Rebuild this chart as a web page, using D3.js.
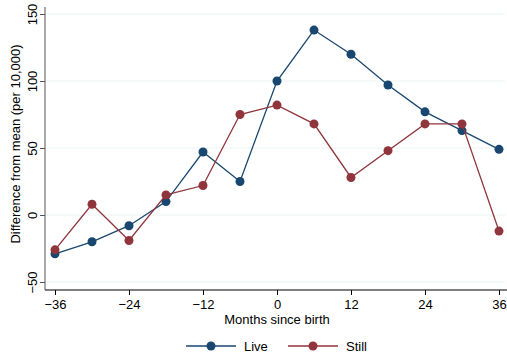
<!DOCTYPE html>
<html>
<head>
<meta charset="utf-8">
<script src="https://cdn.jsdelivr.net/npm/d3@7"></script>
<style>
  body { margin: 0; background: #fff; }
  text { font-family: "Liberation Sans", Arial, sans-serif; fill: #000; }
</style>
</head>
<body>
<script>
// months relative to birth
const months = [-36, -30, -24, -18, -12, -6, 0, 6, 12, 18, 24, 30, 36];
const live  = [-29, -20, -8, 10, 47, 25, 100, 138, 120, 97, 77, 63, 49];
const still = [-26, 8, -19, 15, 22, 75, 82, 68, 28, 48, 68, 68, -12];
const xTicks = [-36, -24, -12, 0, 12, 24, 36];
const yTicks = [-50, 0, 50, 100, 150];

const width = 507, height = 358;
const navy = "#1a476f", maroon = "#90353b";

const svg = d3.select("body").append("svg")
    .attr("width", width)
    .attr("height", height);

const x = d3.scaleLinear().domain([-36, 36]).range([55, 499]);
const y = d3.scaleLinear().domain([-50, 150]).range([282, 14]);

// gridlines
svg.append("g")
    .selectAll("line")
    .data(yTicks)
    .enter().append("line")
    .attr("x1", 46).attr("x2", 505)
    .attr("y1", d => y(d)).attr("y2", d => y(d))
    .attr("stroke", "#eaf2f3")
    .attr("stroke-width", 1);

// y axis, labels rotated like Stata
const yAxis = svg.append("g")
    .attr("transform", "translate(45,0)")
    .call(d3.axisLeft(y).tickValues(yTicks).tickSize(5).tickSizeOuter(0));
yAxis.select(".domain").attr("stroke", "#555").attr("d", "M0,7V290");
yAxis.selectAll(".tick line").attr("stroke", "#555");
yAxis.selectAll(".tick text")
    .attr("font-size", 13)
    .attr("text-anchor", "middle")
    .attr("x", 0)
    .attr("y", 0)
    .attr("dy", 0)
    .attr("transform", "translate(-8,0) rotate(-90)");

// x axis
const xAxis = svg.append("g")
    .attr("transform", "translate(0,290)")
    .call(d3.axisBottom(x).tickValues(xTicks).tickSize(5).tickSizeOuter(0));
xAxis.select(".domain").attr("stroke", "#000").attr("d", "M45,0H507");
xAxis.selectAll(".tick line").attr("stroke", "#000");
xAxis.selectAll(".tick text").attr("font-size", 13).attr("dy", "0.85em");

// axis titles
svg.append("text")
    .attr("x", x(0)).attr("y", 324)
    .attr("text-anchor", "middle")
    .attr("font-size", 13)
    .text("Months since birth");

svg.append("text")
    .attr("transform", `translate(20,${y(50) - 4}) rotate(-90)`)
    .attr("text-anchor", "middle")
    .attr("font-size", 13)
    .text("Difference from mean (per 10,000)");

// series
const series = [
    { name: "Live", values: live, color: navy },
    { name: "Still", values: still, color: maroon }
];

const line = d3.line()
    .x((d, i) => x(months[i]))
    .y(d => y(d));

series.forEach(s => {
    svg.append("path")
        .datum(s.values)
        .attr("fill", "none")
        .attr("stroke", s.color)
        .attr("stroke-width", 1.3)
        .attr("d", line);
    svg.append("g")
        .selectAll("circle")
        .data(s.values)
        .enter().append("circle")
        .attr("cx", (d, i) => x(months[i]))
        .attr("cy", d => y(d))
        .attr("r", 4.5)
        .attr("fill", s.color);
});

// legend
const legend = svg.selectAll(".legend")
    .data(series)
    .enter().append("g")
    .attr("class", "legend")
    .attr("transform", (d, i) => `translate(${186 + i * 102},346)`);

legend.append("line")
    .attr("x1", 0).attr("x2", 50)
    .attr("stroke", d => d.color)
    .attr("stroke-width", 1.3);
legend.append("circle")
    .attr("cx", 25)
    .attr("r", 4.5)
    .attr("fill", d => d.color);
legend.append("text")
    .attr("x", 58)
    .attr("dy", "0.35em")
    .attr("font-size", 13)
    .text(d => d.name);
</script>
</body>
</html>
